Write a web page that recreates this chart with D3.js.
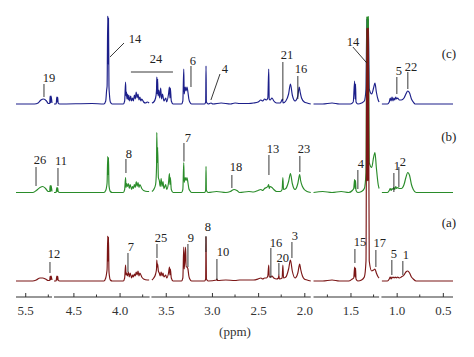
<!DOCTYPE html>
<html><head><meta charset="utf-8">
<script src="https://cdn.jsdelivr.net/npm/d3@7"></script>
<style>body{margin:0;background:#fff}</style></head>
<body>
<svg id="chart" width="474" height="357"></svg>
<script>
// ---- data: chemical shift (ppm) vs intensity (a.u.) ----
const seriesNames = ["a", "b", "c"];
const seriesTags = ["(a)", "(b)", "(c)"];

const seriesC = [
 [5.60,0],[5.40,0],[5.36,1],[5.33,4],[5.30,5],[5.27,3],[5.25,0.5],[5.235,0.5],[5.23,8],[5.225,1],[5.22,8],[5.21,1],
 [4.71,0],[4.69,0],[4.685,1],[4.68,7],[4.675,2],[4.67,7],[4.665,1],[4.65,0],[4.3,0.5],[4.17,0],[4.15,3],[4.14,14],[4.135,18],[4.128,88],[4.124,40],[4.12,86],[4.115,18],[4.11,10],[4.10,2],[4.08,0],
 [3.96,0],[3.945,3],[3.935,22],[3.93,8],[3.925,12],[3.92,5],[3.915,10],[3.905,4],[3.90,9],[3.89,3],[3.88,8],[3.87,3],[3.86,6],[3.85,3],[3.84,9],[3.83,5],[3.82,12],[3.81,6],[3.80,10],[3.79,4],[3.78,7],[3.77,3],[3.76,5],[3.74,2],[3.72,1],[3.70,2],[3.68,1],
 [3.65,1],[3.63,2],[3.61,6],[3.60,14],[3.597,27],[3.592,10],[3.588,25],[3.583,8],[3.575,14],[3.565,6],[3.555,16],[3.545,5],[3.535,10],[3.52,3],[3.50,6],[3.49,2],[3.47,10],[3.46,17],[3.455,6],[3.45,16],[3.44,3],[3.42,0],
 [3.33,0],[3.315,3],[3.305,35],[3.30,10],[3.29,17],[3.28,13],[3.27,17],[3.26,12],[3.25,5],[3.24,2],[3.22,0],[3.08,0],[3.068,2],[3.064,38],[3.06,2],[3.04,0],[3.01,1],[2.99,0],[2.9,1],[2.8,0],[2.75,1],[2.7,0.5],[2.6,0.5],[2.55,1],
 [2.5,2],[2.47,4],[2.45,3],[2.43,5],[2.41,4],[2.395,6],[2.385,35],[2.38,5],[2.37,4],[2.35,6],[2.33,3],[2.30,1],[2.26,1],[2.235,5],[2.23,1],[2.20,3],[2.17,10],[2.15,20],[2.13,9],[2.10,3],[2.07,8],[2.055,17],[2.045,12],[2.03,6],[2.0,2],[1.97,1],[1.93,0],
 [1.90,0],[1.80,0],[1.70,1],[1.62,0],[1.50,0],[1.47,2],[1.455,23],[1.45,5],[1.445,20],[1.44,2],[1.42,0],[1.38,1],[1.35,3],[1.332,15],[1.323,85],[1.319,40],[1.315,85],[1.311,40],[1.307,85],[1.297,15],[1.27,10],[1.25,16],[1.235,21],[1.22,12],[1.20,4],[1.19,2],
 [1.16,0],[1.10,0],[1.08,2],[1.07,6],[1.06,3],[1.05,7],[1.04,3],[1.03,6],[1.02,4],[1.01,7],[1.0,5],[0.99,6],[0.97,4],[0.95,4],[0.92,6],[0.90,10],[0.88,13],[0.86,11],[0.84,5],[0.82,2],[0.80,0],[0.39,0]
];

const seriesB = [
 [5.60,0],[5.42,0],[5.38,2],[5.34,5],[5.31,6],[5.28,4],[5.25,1],[5.235,1],[5.23,7],[5.225,1],[5.22,7],[5.21,1],
 [4.71,0],[4.69,0],[4.685,1],[4.68,5],[4.675,1],[4.67,5],[4.665,1],[4.65,0],[4.17,0],[4.15,2],[4.14,6],[4.135,10],[4.128,36],[4.124,18],[4.12,35],[4.115,8],[4.11,4],[4.10,1],[4.08,0],
 [3.96,0],[3.945,3],[3.935,15],[3.93,5],[3.925,9],[3.915,6],[3.905,9],[3.895,4],[3.885,8],[3.87,3],[3.86,6],[3.85,4],[3.84,8],[3.83,5],[3.82,11],[3.81,6],[3.80,10],[3.79,5],[3.78,8],[3.76,4],[3.74,2],[3.70,1],[3.68,1],
 [3.65,1],[3.63,3],[3.61,8],[3.60,25],[3.597,60],[3.592,30],[3.588,45],[3.58,15],[3.57,12],[3.56,6],[3.55,14],[3.54,6],[3.53,11],[3.52,4],[3.50,8],[3.49,3],[3.47,10],[3.46,19],[3.455,8],[3.45,15],[3.44,3],[3.42,0],
 [3.33,0],[3.315,3],[3.305,30],[3.30,10],[3.29,15],[3.28,12],[3.27,15],[3.26,10],[3.25,4],[3.24,2],[3.22,0],[3.08,0],[3.068,2],[3.064,26],[3.06,2],[3.04,0],[2.95,1],[2.85,0],[2.80,1],[2.76,3],[2.73,2],[2.70,0],[2.6,1],[2.55,0.5],
 [2.5,2],[2.47,3],[2.45,2],[2.43,4],[2.41,5],[2.395,6],[2.385,8],[2.38,4],[2.37,6],[2.35,5],[2.33,3],[2.30,1],[2.26,1],[2.24,3],[2.232,15],[2.225,3],[2.20,4],[2.17,11],[2.15,19],[2.13,9],[2.10,3],[2.07,9],[2.05,18],[2.04,12],[2.02,6],[2.0,3],[1.97,1],[1.93,0],
 [1.90,0],[1.80,1],[1.70,0],[1.60,1],[1.52,0],[1.48,2],[1.465,4],[1.455,13],[1.45,4],[1.445,12],[1.44,2],[1.42,0],[1.38,1],[1.35,4],[1.332,20],[1.323,176],[1.319,80],[1.315,176],[1.311,80],[1.307,176],[1.297,30],[1.27,25],[1.25,35],[1.235,40],[1.22,25],[1.20,8],[1.19,4],
 [1.16,0],[1.10,0],[1.08,2],[1.07,4],[1.06,2],[1.05,4],[1.04,3],[1.03,5],[1.02,3],[1.01,6],[1.0,4],[0.99,5],[0.97,4],[0.95,4],[0.92,8],[0.90,15],[0.88,20],[0.86,17],[0.84,8],[0.82,3],[0.79,0],[0.39,0]
];

const seriesA = [
 [5.60,0],[5.42,0],[5.38,1],[5.34,3],[5.31,3],[5.28,2],[5.25,0.5],[5.235,0.5],[5.23,5],[5.225,1],[5.22,5],[5.21,1],
 [4.71,0],[4.69,0],[4.685,1],[4.68,5],[4.675,1],[4.67,5],[4.665,1],[4.65,0],[4.17,0],[4.15,3],[4.14,8],[4.135,12],[4.128,45],[4.124,20],[4.12,44],[4.115,10],[4.11,5],[4.10,1],[4.08,0],
 [3.96,0],[3.945,3],[3.935,16],[3.93,6],[3.925,8],[3.915,5],[3.905,9],[3.895,4],[3.885,8],[3.87,3],[3.86,6],[3.85,4],[3.84,7],[3.83,5],[3.82,9],[3.81,6],[3.80,10],[3.79,5],[3.78,8],[3.76,4],[3.74,2],[3.70,1],[3.68,1],
 [3.65,1],[3.63,3],[3.61,7],[3.60,12],[3.597,21],[3.592,14],[3.588,17],[3.58,10],[3.57,8],[3.56,5],[3.55,9],[3.54,5],[3.53,8],[3.52,4],[3.50,6],[3.49,3],[3.47,8],[3.46,14],[3.455,6],[3.45,12],[3.44,3],[3.42,0],
 [3.33,0],[3.315,3],[3.305,34],[3.30,12],[3.285,34],[3.28,14],[3.27,14],[3.26,12],[3.25,5],[3.24,2],[3.22,0],[3.08,0],[3.068,2],[3.064,44],[3.06,2],[3.04,0],[2.95,1],[2.946,2],[2.94,0.5],[2.85,1],[2.75,0.5],[2.7,1],[2.6,1],[2.55,1],
 [2.5,2],[2.47,3],[2.45,2],[2.43,3],[2.41,3],[2.395,5],[2.385,16],[2.38,4],[2.37,4],[2.35,5],[2.33,3],[2.30,2],[2.28,3],[2.275,6],[2.27,2],[2.24,3],[2.232,16],[2.225,3],[2.20,4],[2.17,12],[2.15,21],[2.13,10],[2.10,3],[2.07,8],[2.05,17],[2.04,12],[2.02,5],[2.0,2],[1.97,1],[1.93,0],
 [1.90,0],[1.80,0],[1.70,1],[1.62,0],[1.52,0],[1.48,2],[1.465,3],[1.455,14],[1.45,4],[1.445,13],[1.44,2],[1.42,0],[1.38,1],[1.35,4],[1.332,20],[1.323,253],[1.319,100],[1.315,253],[1.311,100],[1.307,253],[1.297,20],[1.27,10],[1.25,11],[1.235,12],[1.22,8],[1.20,4],[1.19,3],
 [1.16,0],[1.10,0],[1.08,2],[1.07,4],[1.06,2],[1.05,4],[1.04,3],[1.03,4],[1.02,3],[1.01,4],[1.0,3],[0.99,4],[0.97,3],[0.95,4],[0.92,6],[0.90,9],[0.88,10],[0.86,8],[0.84,4],[0.82,2],[0.79,0],[0.39,0]
];

// broken-axis segments (ppm ranges, high -> low)
const segments = [[5.6,5.21],[4.71,3.675],[3.655,1.93],[1.90,1.19],[1.165,0.39]];
const majorTicks = [5.5,4.5,4.0,3.5,3.0,2.5,2.0,1.5,1.0,0.5];
const minorTicks = [5.25,4.25,3.75,3.25,2.75,2.25,1.75,1.25,0.75];

// peak annotations: [series, label, textPpm, textInt, lineX1, lineInt1, lineX2, lineInt2]
const annotations = [
 ["c","19",5.242,22,5.297,20,5.297,7],
 ["c","14",3.833,61,3.952,61,4.104,47],
 ["c","24",3.606,41,3.877,32,3.422,32],
 ["c","6",3.206,39,3.227,38,3.227,17],
 ["c","4",2.859,31,2.913,30,3.011,4],
 ["c","21",2.188,45,2.232,42,2.232,4],
 ["c","16",2.037,31,2.07,28,2.07,5],
 ["c","14",1.474,58,1.474,57,1.323,41],
 ["c","5",0.976,29,0.998,27,0.998,10],
 ["c","22",0.846,33,0.879,32,0.879,15],
 ["b","26",5.34,28.5,5.383,25.5,5.383,6.5],
 ["b","11",4.634,27.5,4.667,24.5,4.667,6.5],
 ["b","8",3.898,34.5,3.931,33.5,3.931,19.5],
 ["b","7",3.26,50.5,3.303,49.5,3.303,31],
 ["b","18",2.74,21.5,2.784,17.5,2.784,4.5],
 ["b","13",2.34,39.5,2.383,37.5,2.383,17.5],
 ["b","23",2.004,39.5,2.048,36.5,2.048,20.5],
 ["b","4",1.388,24.5,1.42,22.5,1.42,3.5],
 ["b","1",0.998,22.5,1.03,19.5,1.03,0.5],
 ["b","2",0.933,26.5,0.976,25.5,0.976,5.5],
 ["a","12",4.71,23,5.232,19,5.232,8],
 ["a","7",3.877,30,3.909,28,3.909,9],
 ["a","25",3.552,39,3.595,37,3.595,23],
 ["a","9",3.227,39,3.26,37,3.26,14],
 ["a","8",3.043,50,3.065,45,3.065,29],
 ["a","10",2.881,25,2.946,22,2.946,1],
 ["a","16",2.307,34,2.362,33,2.362,3],
 ["a","20",2.232,19,2.275,18,2.275,6],
 ["a","3",2.102,41,2.134,39,2.134,23],
 ["a","15",1.398,35,1.452,32,1.452,18],
 ["a","17",1.182,34,1.225,31,1.225,14],
 ["a","5",1.03,23,1.052,21,1.052,6],
 ["a","1",0.9,22,0.933,20,0.933,6]
];
const tagPositions = [["a",0.435,54],["b",0.435,51.5],["c",0.435,46]];

// ---- drawing ----
const svg = d3.select("#chart");
const colors = {a:"#7b1616", b:"#2a8c2a", c:"#1c1f8a"};
const dataBySeries = {a:seriesA, b:seriesB, c:seriesC};
const serif = "'Liberation Serif', 'Times New Roman', Times, serif";

const x = d3.scaleLinear().domain([5.6,5.21,4.71,0.39]).range([16,52,54,453]);
const base = d3.scalePoint().domain(seriesNames).range([281,104]);
const yI = d3.scaleLinear().domain([0,260]).range([0,260]);
const Y = (s,v) => base(s) - yI(v);

const drawOrder = ["c","b","a"];
drawOrder.forEach(s => {
  const line = d3.line().x(d => x(d[0])).y(d => Y(s,d[1])).curve(d3.curveMonotoneX);
  segments.forEach(seg => {
    const pts = dataBySeries[s].filter(d => d[0] <= seg[0] && d[0] >= seg[1])
      .slice().sort((p,q) => q[0]-p[0]);
    svg.append("path").attr("d", line(pts)).attr("fill","none")
      .attr("stroke", colors[s]).attr("stroke-width",1.15).attr("stroke-linejoin","round");
  });
});

// axis
const axisY = 297;
const axisG = svg.append("g").attr("transform",`translate(0,${axisY})`)
  .call(d3.axisBottom(x).tickValues(majorTicks).tickSize(-4).tickPadding(9).tickFormat(d3.format(".1f")));
axisG.select(".domain").remove();
axisG.selectAll(".tick line").attr("stroke","#333");
axisG.selectAll(".tick text").attr("font-family",serif).attr("font-size",13).attr("fill","#333");
segments.forEach(seg => {
  svg.append("line").attr("x1",x(seg[0])).attr("x2",x(seg[1])).attr("y1",axisY).attr("y2",axisY)
    .attr("stroke","#333").attr("stroke-width",1.2);
});
minorTicks.forEach(t => {
  svg.append("line").attr("x1",x(t)).attr("x2",x(t)).attr("y1",axisY).attr("y2",axisY-2.5)
    .attr("stroke","#333").attr("stroke-width",1);
});
svg.append("text").attr("x",235).attr("y",336).attr("text-anchor","middle")
  .attr("font-family",serif).attr("font-size",13).attr("fill","#333").text("(ppm)");

// annotations
annotations.forEach(a => {
  const [s,label,tp,ti,lx1,li1,lx2,li2] = a;
  svg.append("line").attr("x1",x(lx1)).attr("y1",Y(s,li1)).attr("x2",x(lx2)).attr("y2",Y(s,li2))
    .attr("stroke","#222").attr("stroke-width",0.9);
  svg.append("text").attr("x",x(tp)).attr("y",Y(s,ti)).attr("text-anchor","middle")
    .attr("font-family",serif).attr("font-size",12.5).attr("fill","#222").text(label);
});
tagPositions.forEach(t => {
  svg.append("text").attr("x",x(t[1])).attr("y",Y(t[0],t[2])).attr("text-anchor","middle")
    .attr("font-family",serif).attr("font-size",13).attr("fill","#222")
    .text(seriesTags[seriesNames.indexOf(t[0])]);
});
</script>
</body></html>
